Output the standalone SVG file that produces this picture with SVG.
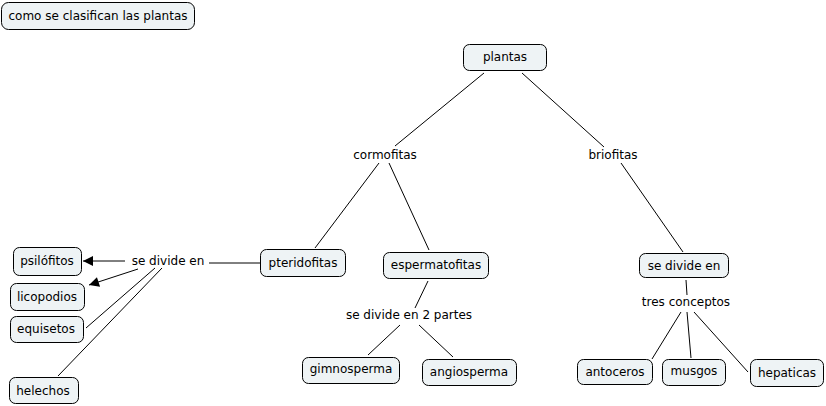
<svg xmlns="http://www.w3.org/2000/svg" width="826" height="406" viewBox="0 0 826 406">
<defs>
<style>
.box{fill:#eef3f5;stroke:#000;stroke-width:1}
text{font-family:"DejaVu Sans","Liberation Sans",sans-serif;font-size:12px;fill:#000;text-anchor:middle}
.ln{stroke:#000;stroke-width:1;fill:none}
</style>
<marker id="arr" viewBox="0 0 10 10" refX="10" refY="5" markerWidth="12" markerHeight="10" markerUnits="userSpaceOnUse" orient="auto">
<path d="M0,0 L10,5 L0,10 Z" fill="#000"/>
</marker>
</defs>
<rect width="826" height="406" fill="#fff"/>
<g id="connectors">
<line class="ln" x1="484" y1="73" x2="395" y2="146"/>
<line class="ln" x1="522" y1="73" x2="604" y2="147"/>
<line class="ln" x1="379" y1="163" x2="315" y2="248"/>
<line class="ln" x1="389" y1="163" x2="429" y2="250"/>
<line class="ln" x1="621" y1="163" x2="683" y2="252"/>
<line class="ln" x1="260" y1="263" x2="209" y2="263"/>
<line class="ln" x1="125" y1="261" x2="83" y2="261" marker-end="url(#arr)"/>
<line class="ln" x1="138" y1="269" x2="89" y2="285" marker-end="url(#arr)"/>
<line class="ln" x1="155" y1="268" x2="86" y2="328"/>
<line class="ln" x1="162" y1="268" x2="58" y2="376"/>
<line class="ln" x1="428" y1="281" x2="415" y2="308"/>
<line class="ln" x1="400" y1="325" x2="368" y2="355"/>
<line class="ln" x1="419" y1="325" x2="453" y2="357"/>
<line class="ln" x1="686" y1="280" x2="687" y2="295"/>
<line class="ln" x1="681" y1="312" x2="652" y2="359"/>
<line class="ln" x1="687" y1="312" x2="691" y2="358"/>
<line class="ln" x1="694" y1="312" x2="748" y2="372"/>
</g>
<g id="n-title"><rect class="box" x="1.5" y="2.5" width="193" height="27" rx="7"/><text x="98" y="20">como se clasifican las plantas</text></g>
<g id="n-plantas"><rect class="box" x="463.5" y="44.5" width="83" height="26" rx="6"/><text x="505" y="61">plantas</text></g>
<g id="n-cormofitas"><text x="385" y="159">cormofitas</text></g>
<g id="n-briofitas"><text x="613" y="159">briofitas</text></g>
<g id="n-pteridofitas"><rect class="box" x="260.5" y="249.5" width="85" height="27" rx="6"/><text x="303" y="267">pteridofitas</text></g>
<g id="n-espermatofitas"><rect class="box" x="383.5" y="252.5" width="105" height="26" rx="6"/><text x="436" y="269">espermatofitas</text></g>
<g id="n-sedivide1"><text x="168" y="265">se divide en</text></g>
<g id="n-psilofitos"><rect class="box" x="13.5" y="247.5" width="68" height="28" rx="6"/><text x="47" y="265">psilófitos</text></g>
<g id="n-licopodios"><rect class="box" x="10.5" y="283.5" width="74" height="27" rx="6"/><text x="47" y="301">licopodios</text></g>
<g id="n-equisetos"><rect class="box" x="10.5" y="316.5" width="73" height="26" rx="6"/><text x="46" y="333">equisetos</text></g>
<g id="n-helechos"><rect class="box" x="9.5" y="377.5" width="69" height="26" rx="6"/><text x="43" y="395">helechos</text></g>
<g id="n-sedivide2"><text x="409" y="319">se divide en 2 partes</text></g>
<g id="n-gimnosperma"><rect class="box" x="302.5" y="357.5" width="97" height="26" rx="6"/><text x="351" y="373">gimnosperma</text></g>
<g id="n-angiosperma"><rect class="box" x="422.5" y="359.5" width="94" height="26" rx="6"/><text x="469" y="376">angiosperma</text></g>
<g id="n-sedivide3"><rect class="box" x="639.5" y="253.5" width="89" height="24" rx="6"/><text x="684" y="270">se divide en</text></g>
<g id="n-tres"><text x="686" y="306">tres conceptos</text></g>
<g id="n-antoceros"><rect class="box" x="577.5" y="359.5" width="75" height="25" rx="6"/><text x="615" y="376">antoceros</text></g>
<g id="n-musgos"><rect class="box" x="662.5" y="359.5" width="63" height="26" rx="6"/><text x="694" y="375">musgos</text></g>
<g id="n-hepaticas"><rect class="box" x="750.5" y="359.5" width="73" height="27" rx="6"/><text x="787" y="377">hepaticas</text></g>
</svg>
